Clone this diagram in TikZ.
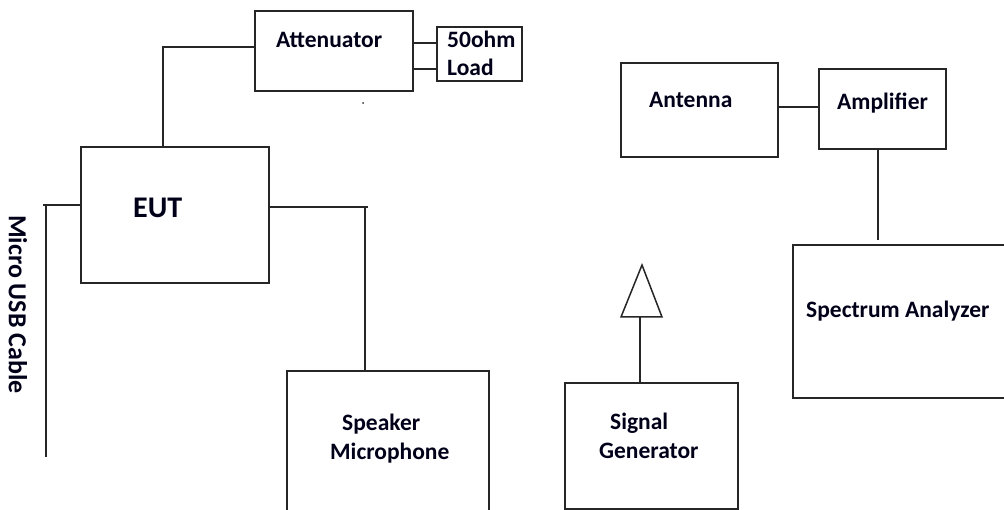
\documentclass[tikz,border=0pt]{standalone}
\usepackage{fontspec}
\setmainfont{Carlito}
\usetikzlibrary{calc}
\tikzset{
  box/.style={draw=black!85, line width=1.5pt, inner sep=0pt, minimum width=#1},
  box/.default=10pt,
  wire/.style={draw=black!85, line width=1.5pt},
  lbl/.style={inner sep=0pt, anchor=base west, font=\bfseries\fontsize{23.5}{28}\selectfont, text=black!90!blue},
}
\begin{document}
\begin{tikzpicture}[x=1pt,y=-1pt]
\useasboundingbox (0,0) rectangle (1004,510);
\clip (0,0) rectangle (1004,510);
% boxes
\node[box=158pt, minimum height=80pt] (att) at (334,51) {};
\node[box=85pt, minimum height=54pt] (load) at (479.5,54) {};
\node[box=188pt, minimum height=136pt] (eut) at (175,215) {};
\node[box=202pt, minimum height=144pt] (spk) at (388,443) {};
\node[box=157pt, minimum height=94pt] (ant) at (699.5,110) {};
\node[box=127pt, minimum height=80pt] (amp) at (882.5,109) {};
\node[box=217pt, minimum height=153pt] (spec) at (901.5,321.5) {};
\node[box=173pt, minimum height=126pt] (sig) at (651.5,446) {};
% labels
\node[lbl] (tatt) at (276,48) {Attenuator};
\node[lbl] (tload1) at (447,48) {50ohm};
\node[lbl] (tload2) at (447,76) {Load};
\node[lbl, font=\bfseries\fontsize{30}{34}\selectfont] (teut) at (133,218) {EUT};
\node[lbl] (tant) at (649,108) {Antenna};
\node[lbl] (tamp) at (837,110) {Amplifier};
\node[lbl] (tspk1) at (342,431) {Speaker};
\node[lbl] (tspk2) at (330,459) {Microphone};
\node[lbl] (tsig1) at (610,429) {Signal};
\node[lbl] (tsig2) at (599,458) {Generator};
\node[lbl] (tspec) at (806,318) {Spectrum Analyzer};
\node[lbl, anchor=west, rotate=-90, font=\bfseries\fontsize{26}{30}\selectfont] (tusb) at (18,215) {Micro USB Cable};
% connectors
\draw[wire] ([yshift=8pt]att.east) -- ([yshift=8pt]att.east -| load.west);
\draw[wire] ([yshift=-18pt]att.east) -- ([yshift=-18pt]att.east -| load.west);
\draw[wire] ([yshift=4pt]att.west) -| ([xshift=-12pt]eut.north);
\coordinate (usbtick) at (43,205);
\coordinate (usbend) at (46,457);
\draw[wire] ([yshift=10pt]eut.west) -- (usbtick);
\draw[wire] (usbend |- usbtick) -- (usbend);
\coordinate (spktick) at (368,207);
\draw[wire] ([yshift=8pt]eut.east) -- (spktick);
\draw[wire] ([xshift=-23pt]spk.north) -- ([xshift=-23pt]spk.north |- spktick);
\draw[wire] ([yshift=3pt]ant.east) -- ([yshift=3pt]ant.east -| amp.west);
\coordinate (ampend) at (878,240);
\draw[wire] ([xshift=-4.5pt]amp.south) -- (ampend);
% signal generator antenna
\coordinate (tribase) at (640,317);
\coordinate (trileft) at (621,317);
\coordinate (triapex) at (642,265);
\coordinate (triright) at (662,317);
\draw[wire] ([xshift=-11.5pt]sig.north) -- (tribase);
\draw[wire, line join=miter] (trileft) -- (triapex) -- (triright) -- cycle;
% stray dot
\fill[black!80] (363,103) circle (1pt);
\end{tikzpicture}
\end{document}
